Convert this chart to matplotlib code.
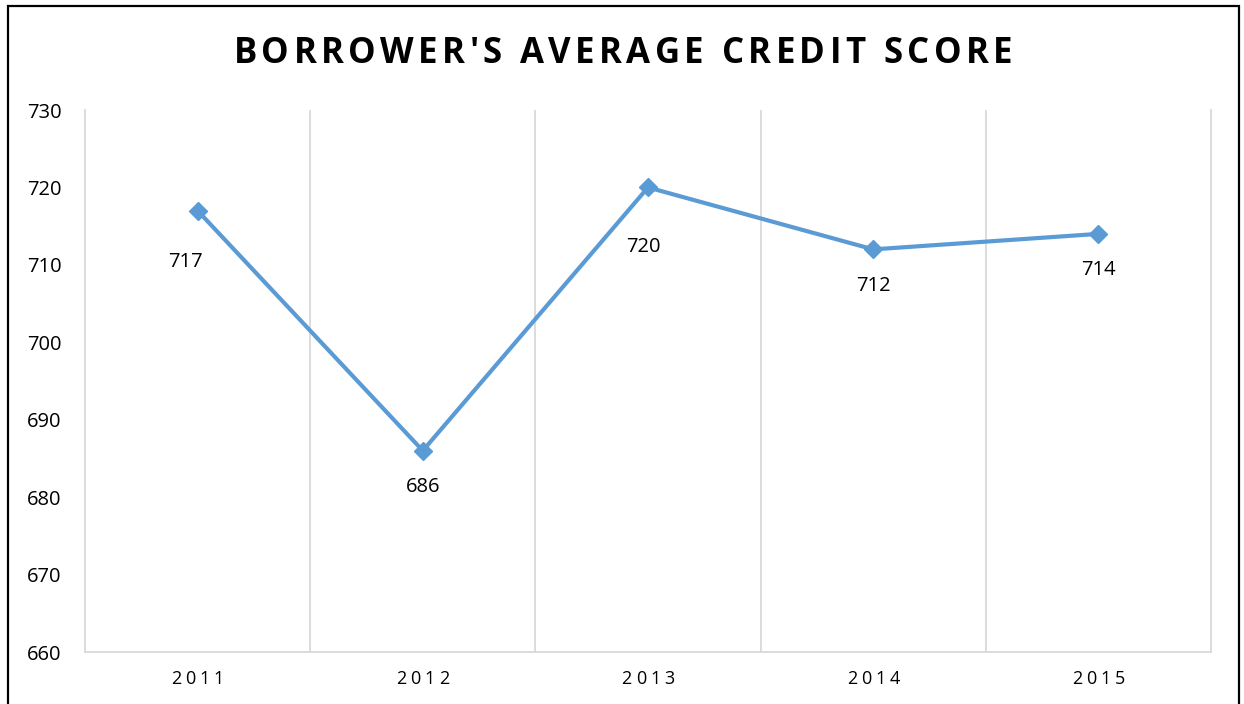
import matplotlib
matplotlib.use("Agg")
import matplotlib.pyplot as plt
from matplotlib.patches import Rectangle

years = ["2011", "2012", "2013", "2014", "2015"]
scores = [717, 686, 720, 712, 714]
title = "BORROWER'S AVERAGE CREDIT SCORE"
# how far below each point the value label sits (px), as in the original
label_drop = [51, 36, 60, 37, 36]
label_shift = [-12, 0, -5, 0, 0]

line_color = "#5B9BD5"
grid_color = "#D9D9D9"
W, H = 1244, 704

plt.rcParams["font.family"] = ["Open Sans", "DejaVu Sans"]

fig = plt.figure(figsize=(W / 100, H / 100), dpi=100)
ax = fig.add_axes([85 / W, 1 - 652 / H, (1211 - 85) / W, (652 - 110) / H])
renderer = fig.canvas.get_renderer()


def advance(c, **kw):
    # width of one character, spaces included
    t1 = fig.text(0, 0, "|" + c + "|", **kw)
    t2 = fig.text(0, 0, "||", **kw)
    w = t1.get_window_extent(renderer).width - t2.get_window_extent(renderer).width
    t1.remove()
    t2.remove()
    return w


def spaced_text(xc, yc, s, gap, **kw):
    # letter-spaced text centred at (xc, yc) in pixels from top-left
    widths = [advance(c, **kw) for c in s]
    total = sum(widths) + gap * (len(s) - 1)
    x = xc - total / 2
    for c, w in zip(s, widths):
        fig.text(x / W, 1 - yc / H, c, ha="left", va="center", **kw)
        x += w + gap


x = list(range(len(years)))
ax.plot(x, scores, color=line_color, linewidth=3, marker="D", markersize=9,
        zorder=3)

for i, v in enumerate(scores):
    ax.annotate(str(v), (i, v), xytext=(label_shift[i] * 0.72, -label_drop[i] * 0.72),
                textcoords="offset points", ha="center", va="center",
                fontsize=14.5, color="black")

ax.set_xlim(-0.5, len(years) - 0.5)
ax.set_ylim(660, 730)
ax.set_yticks(range(660, 731, 10))
ax.set_xticks(x)
ax.set_xticklabels([])
ax.set_xticks([i + 0.5 for i in x[:-1]], minor=True)
ax.grid(True, which="minor", axis="x", color=grid_color, linewidth=1.3)
ax.tick_params(axis="both", which="both", length=0)
ax.tick_params(axis="y", labelsize=14.5, pad=17)

for s in ["left", "right", "bottom"]:
    ax.spines[s].set_color(grid_color)
    ax.spines[s].set_linewidth(1.3)
ax.spines["top"].set_visible(False)

# category labels with the wide tracking of the original
for i, yr in enumerate(years):
    px = ax.transData.transform((i, 660))[0]
    spaced_text(px, 679, yr, 4, fontsize=13, color="black")

spaced_text(W / 2 + 1, 54, title, 4.4, fontsize=25, fontweight="bold",
            color="black")

fig.patches.append(Rectangle((8 / W, -0.05), (1239 - 8) / W, 1.05 - 6 / H,
                             transform=fig.transFigure, fill=False,
                             edgecolor="black", linewidth=1.6))

fig.savefig("out.png", dpi=100)
